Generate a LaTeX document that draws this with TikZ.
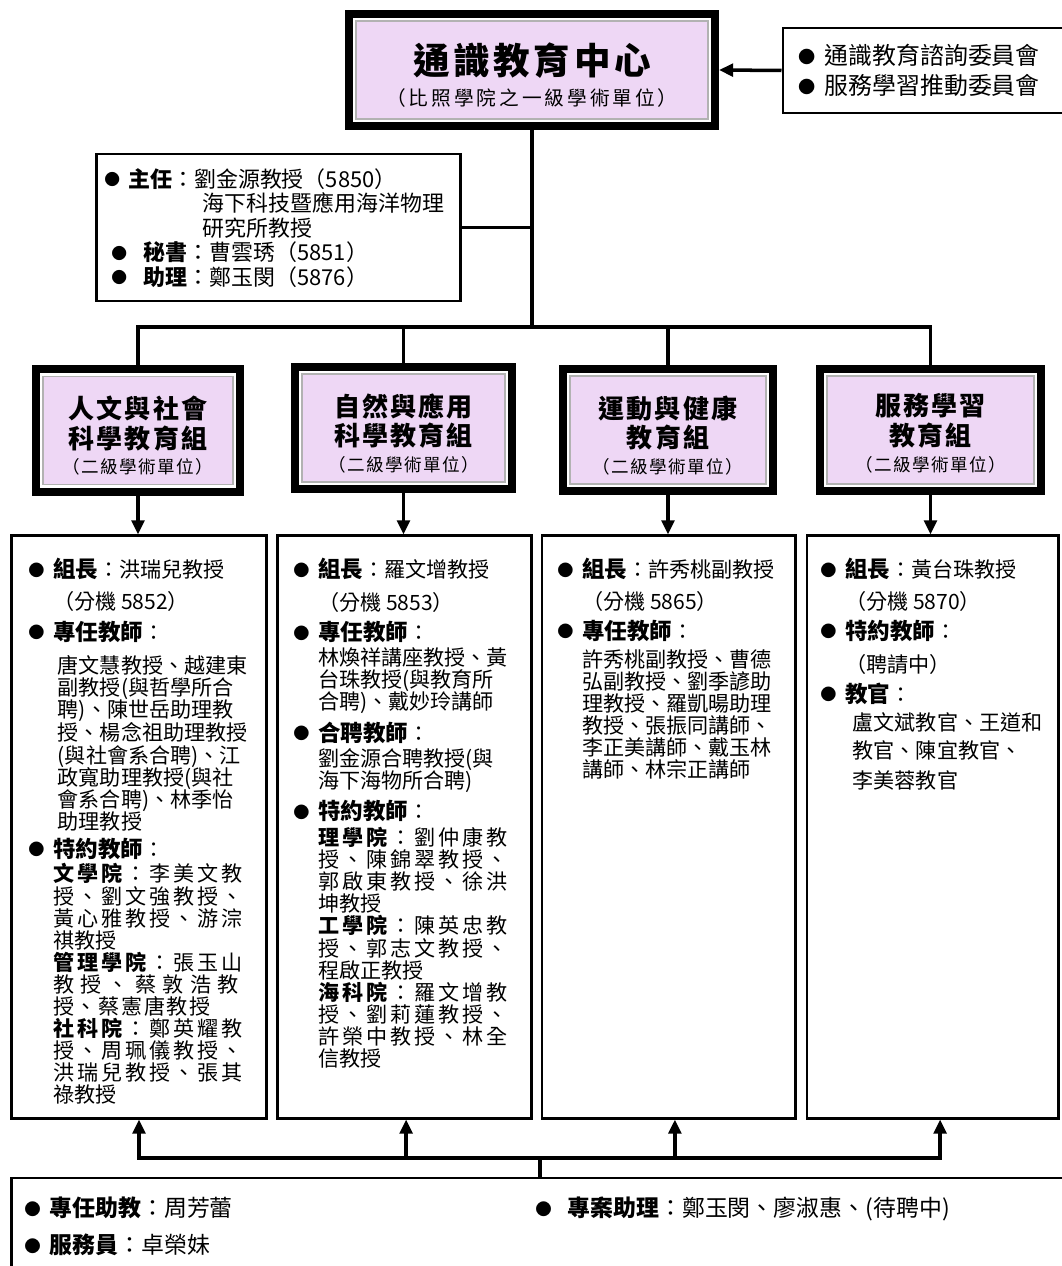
\documentclass[tikz,border=0pt]{standalone}
\usepackage{fontspec}
\usepackage{graphicx}
\setmainfont{Noto Sans CJK TC}
\usetikzlibrary{arrows.meta,positioning}
\definecolor{pinkbg}{RGB}{238,215,245}
\newcommand{\bul}{\makebox[1.1em][l]{\raisebox{0.06em}{\scalebox{0.72}{●}}}}
\newcommand{\hd}[1]{{\fontsize{16pt}{15.7pt}\selectfont\bul\textbf{#1}}：}
\newcommand{\ind}{\hspace*{17.6pt}}
\newcommand{\wline}[2][14]{{\addfontfeature{LetterSpace=#1}\ind #2}}
\newcommand{\gtit}[1]{{\fontsize{18.5pt}{21.2pt}\selectfont\bfseries\addfontfeature{LetterSpace=8}#1}}
\newcommand{\gsub}[1]{{\fontsize{12.5pt}{21.2pt}\selectfont\addfontfeature{LetterSpace=8}#1}}

\begin{document}
\begin{tikzpicture}[x=0.025cm, y=-0.025cm,
  conn/.style={line width=2.5pt},
  arr/.style={conn, -{Triangle[length=10pt,width=9pt]}},
  pbox/.style={draw=gray!60, line width=0.9pt, fill=pinkbg, inner sep=0pt, outer sep=0.275cm,
    preaction={draw=black, line width=0.55cm},
    preaction={draw=white, line width=0.15cm}},
  wbox/.style={draw=black, line width=2.1pt, inner sep=0pt},
  txt/.style={anchor=north west, inner sep=0pt, align=left, font=\fontsize{15pt}{15.7pt}\selectfont},
  gtxt/.style={inner sep=0pt, align=center, font=\fontsize{12.5pt}{21.2pt}\selectfont}]

  \useasboundingbox (0,0) rectangle (1061,1266);

  % centre box
  \node[pbox, minimum width=8.8cm, minimum height=2.45cm] (gec) at (532,70) {};
  \node[gtxt, font=\fontsize{14pt}{26pt}\selectfont, yshift=-0.125cm] (gect) at (gec.center)
    {{\fontsize{26pt}{26pt}\selectfont\bfseries\addfontfeature{LetterSpace=10}通識教育中心}\\[-4.4pt]
     {\addfontfeature{LetterSpace=15}（比照學院之一級學術單位）}};

  % committees
  \node[wbox, minimum width=7cm, minimum height=2.125cm] (cmt) at (923,70.5) {};
  \node[txt, font=\fontsize{17pt}{21.3pt}\selectfont] (cmtt) at (798,44)
    {\bul 通識教育諮詢委員會\\\bul 服務學習推動委員會};
  \draw[arr] (cmt.west) -- (gec.east);

  % director and staff
  \node[wbox, minimum width=9.075cm, minimum height=3.675cm] (dir) at (278.5,227.5) {};
  \node[txt, font=\fontsize{15.6pt}{17.4pt}\selectfont] (dirt) at (104,168) {%
    \bul\textbf{主任}：劉金源教授（5850）\\
    \hspace*{70pt}海下科技暨應用海洋物理\\
    \hspace*{70pt}研究所教授\\
    \hspace*{5pt}\bul\hspace*{6pt}\textbf{秘書}：曹雲琇（5851）\\
    \hspace*{5pt}\bul\hspace*{6pt}\textbf{助理}：鄭玉閔（5876）};

  % four groups
  \node[pbox, minimum width=4.75cm, minimum height=2.7cm] (g1) at (138,430.5) {};
  \node[pbox, minimum width=5.075cm, minimum height=2.7cm] (g2) at (403.5,428) {};
  \node[pbox, minimum width=4.9cm, minimum height=2.7cm] (g3) at (668,430) {};
  \node[pbox, minimum width=5.175cm, minimum height=2.7cm] (g4) at (930.5,430) {};
  \node[gtxt, yshift=-0.13cm] (g1t) at (g1.center)
    {\gtit{人文與社會}\\\gtit{科學教育組}\\[-3.2pt]\gsub{（二級學術單位）}};
  \node[gtxt, yshift=-0.13cm] (g2t) at (g2.center)
    {\gtit{自然與應用}\\\gtit{科學教育組}\\[-3.2pt]\gsub{（二級學術單位）}};
  \node[gtxt, yshift=-0.13cm] (g3t) at (g3.center)
    {\gtit{運動與健康}\\\gtit{教育組}\\[-3.2pt]\gsub{（二級學術單位）}};
  \node[gtxt, yshift=-0.08cm] (g4t) at (g4.center)
    {\gtit{服務學習}\\\gtit{教育組}\\[-3.2pt]\gsub{（二級學術單位）}};

  % tree from the centre
  \coordinate (bus) at (532,327);
  \draw[conn] (gec.south) -- (gec.south |- bus);
  \draw[conn] (dir.east) -- (dir.east -| gec.south);
  \draw[conn] (g1.north) -- (g1.north |- bus) -- (g4.north |- bus) -- (g4.north);
  \draw[conn] (g2.north) -- (g2.north |- bus);
  \draw[conn] (g3.north) -- (g3.north |- bus);

  % member boxes
  \node[wbox, minimum width=6.35cm, minimum height=14.55cm] (c1) at (139,827) {};
  \node[wbox, minimum width=6.325cm, minimum height=14.55cm] (c2) at (404.5,827) {};
  \node[wbox, minimum width=6.325cm, minimum height=14.55cm] (c3) at (668.5,827) {};
  \node[wbox, minimum width=6.275cm, minimum height=14.55cm] (c4) at (932.5,827) {};
  \draw[arr] (g1.south) -- (g1.south |- c1.north);
  \draw[arr] (g2.south) -- (g2.south |- c2.north);
  \draw[arr] (g3.south) -- (g3.south |- c3.north);
  \draw[arr] (g4.south) -- (g4.south |- c4.north);

  \node[txt] (c1t) at (28,558) {%
    \hd{組長}洪瑞兒教授\\[6.9pt]
    \ind（分機 5852）\\[6.2pt]
    \hd{專任教師}\\[7.7pt]
    \hspace*{21pt}唐文慧教授、越建東\\
    \hspace*{21pt}副教授(與哲學所合\\
    \hspace*{21pt}聘)、陳世岳助理教\\
    \hspace*{21pt}授、楊念祖助理教授\\
    \hspace*{21pt}(與社會系合聘)、江\\
    \hspace*{21pt}政寬助理教授(與社\\
    \hspace*{21pt}會系合聘)、林季怡\\
    \hspace*{21pt}助理教授\\[4.1pt]
    \hd{特約教師}\\[2pt]
    \wline{\textbf{文學院}：李美文教}\\
    \wline{授、劉文強教授、}\\
    \wline{黃心雅教授、游淙}\\
    \ind 祺教授\\
    \wline{\textbf{管理學院}：張玉山}\\
    \wline[30]{教授、蔡敦浩教}\\
    \wline[8]{授、蔡憲唐教授}\\
    \wline{\textbf{社科院}：鄭英耀教}\\
    \wline{授、周珮儀教授、}\\
    \wline{洪瑞兒教授、張其}\\
    \ind 祿教授};

  \node[txt] (c2t) at (293,558) {%
    \hd{組長}羅文增教授\\[7.7pt]
    \ind（分機 5853）\\[5.5pt]
    \hd{專任教師}\\[2pt]
    \ind 林煥祥講座教授、黃\\
    \ind 台珠教授(與教育所\\
    \ind 合聘)、戴妙玲講師\\[4.8pt]
    \hd{合聘教師}\\[2pt]
    \ind 劉金源合聘教授(與\\
    \ind 海下海物所合聘)\\[4.8pt]
    \hd{特約教師}\\[2.7pt]
    \wline{\textbf{理學院}：劉仲康教}\\
    \wline{授、陳錦翠教授、}\\
    \wline{郭啟東教授、徐洪}\\
    \ind 坤教授\\
    \wline{\textbf{工學院}：陳英忠教}\\
    \wline{授、郭志文教授、}\\
    \ind 程啟正教授\\
    \wline{\textbf{海科院}：羅文增教}\\
    \wline{授、劉莉蓮教授、}\\
    \wline{許榮中教授、林全}\\
    \ind 信教授};

  \node[txt] (c3t) at (557,558) {%
    \hd{組長}許秀桃副教授\\[6.9pt]
    \ind（分機 5865）\\[5.5pt]
    \hd{專任教師}\\[4.1pt]
    \ind 許秀桃副教授、曹德\\
    \ind 弘副教授、劉季諺助\\
    \ind 理教授、羅凱暘助理\\
    \ind 教授、張振同講師、\\
    \ind 李正美講師、戴玉林\\
    \ind 講師、林宗正講師};

  \node[txt] (c4t) at (820,558) {%
    \hd{組長}黃台珠教授\\[6.9pt]
    \ind（分機 5870）\\[5.5pt]
    \hd{特約教師}\\[7.7pt]
    \ind（聘請中）\\[5.5pt]
    \hd{教官}\\[4.8pt]
    \hspace*{23pt}盧文斌教官、王道和\\[4.1pt]
    \hspace*{23pt}教官、陳宜教官、\\[5.5pt]
    \hspace*{23pt}李美蓉教官};

  % assistants
  \node[wbox, minimum width=26.275cm, minimum height=2.3cm] (bot) at (537.5,1224) {};
  \node[txt, font=\fontsize{16.3pt}{26.2pt}\selectfont] (bott1) at (24,1197)
    {\bul\textbf{專任助教}：周芳蕾\\\bul\textbf{服務員}：卓榮妹};
  \node[txt, font=\fontsize{16.3pt}{26.2pt}\selectfont] (bott2) at (535,1197)
    {\bul\hspace*{5pt}\textbf{專案助理}：鄭玉閔、廖淑惠、(待聘中)};

  \coordinate (bus2) at (540,1158);
  \coordinate (f1) at (c1.south |- bus2);
  \coordinate[xshift=0.04cm] (f2) at (c2.south |- bus2);
  \coordinate[xshift=0.16cm] (f3) at (c3.south |- bus2);
  \coordinate[xshift=0.19cm] (f4) at (c4.south |- bus2);
  \draw[conn] (bus2) -- (bus2 |- bot.north);
  \draw[arr] (bus2) -- (f1) -- (f1 |- c1.south);
  \draw[arr] (bus2) -- (f4) -- (f4 |- c4.south);
  \draw[arr] (f2) -- (f2 |- c2.south);
  \draw[arr] (f3) -- (f3 |- c3.south);
\end{tikzpicture}
\end{document}
